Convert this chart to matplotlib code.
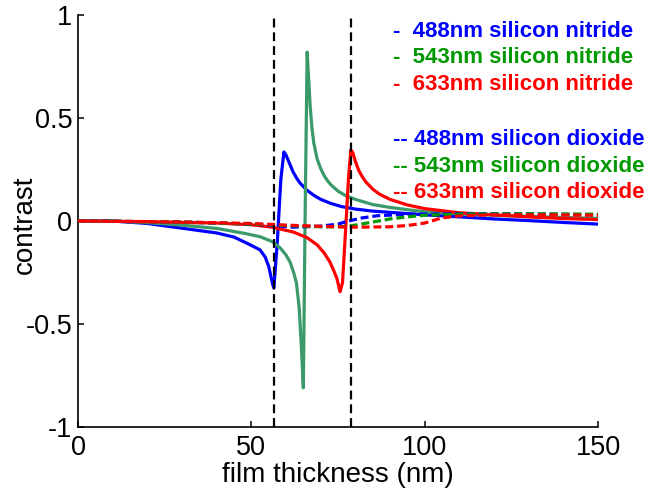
import matplotlib
matplotlib.use("Agg")
import matplotlib.pyplot as plt

plt.rcParams['font.family'] = ['Liberation Sans', 'DejaVu Sans']
plt.rcParams['axes.unicode_minus'] = False

# ---- data ----
# silicon nitride (solid)
x_n488 = [0, 10, 20, 30, 40, 45, 49, 52.5, 54, 55, 55.8, 56.2, 56.5, 57.5, 58.5, 59.4, 60, 61, 62, 63, 64, 66, 68, 70, 73, 76, 80, 85, 90, 100, 110, 120, 130, 140, 150]
y_n488 = [0, 0, -0.012, -0.035, -0.058, -0.078, -0.11, -0.14, -0.175, -0.22, -0.28, -0.31, -0.325, -0.1, 0.2, 0.335, 0.32, 0.28, 0.24, 0.21, 0.185, 0.15, 0.125, 0.105, 0.085, 0.07, 0.058, 0.048, 0.042, 0.03, 0.02, 0.01, 0.002, -0.007, -0.015]

x_n543 = [0, 10, 20, 30, 40, 43, 48, 52.5, 56, 58.3, 60, 61.2, 62.2, 63, 63.8, 64.4, 65, 65.5, 66.1, 66.5, 67, 67.5, 68, 69, 70, 71, 72, 73, 75, 77, 80, 85, 90, 95, 100, 110, 120, 130, 140, 150]
y_n543 = [0, 0, -0.008, -0.02, -0.036, -0.045, -0.06, -0.076, -0.1, -0.13, -0.165, -0.2, -0.25, -0.3, -0.42, -0.6, -0.81, 0.0, 0.82, 0.7, 0.55, 0.45, 0.38, 0.3, 0.255, 0.22, 0.195, 0.175, 0.145, 0.125, 0.105, 0.08, 0.066, 0.055, 0.045, 0.035, 0.028, 0.022, 0.017, 0.013]

x_n633 = [0, 20, 40, 50, 56, 62, 66, 69, 71, 72.7, 74, 74.7, 75.2, 75.6, 76.3, 77, 78, 78.7, 79.2, 80, 81, 82, 83, 85, 87, 90, 95, 100, 110, 120, 130, 140, 150]
y_n633 = [0, -0.003, -0.01, -0.018, -0.03, -0.053, -0.08, -0.116, -0.155, -0.2, -0.25, -0.28, -0.315, -0.343, -0.3, -0.1, 0.2, 0.345, 0.335, 0.29, 0.245, 0.215, 0.19, 0.155, 0.13, 0.105, 0.078, 0.06, 0.04, 0.03, 0.02, 0.012, 0.007]

# silicon dioxide (dashed)
x_o488 = [0, 30, 50, 56, 62, 70, 75, 78, 82, 86, 95, 110, 130, 150]
y_o488 = [0, -0.005, -0.015, -0.022, -0.03, -0.025, -0.015, 0.0, 0.015, 0.025, 0.033, 0.035, 0.035, 0.03]

x_o543 = [0, 30, 50, 60, 70, 76, 80, 85, 90, 95, 100, 110, 130, 150]
y_o543 = [0, -0.005, -0.015, -0.022, -0.028, -0.028, -0.02, -0.005, 0.01, 0.02, 0.028, 0.033, 0.035, 0.033]

x_o633 = [0, 30, 50, 60, 70, 80, 90, 95, 100, 105, 110, 120, 130, 150]
y_o633 = [0, -0.005, -0.012, -0.02, -0.026, -0.03, -0.028, -0.022, -0.01, 0.015, 0.025, 0.03, 0.03, 0.028]

vlines_x = [56.5, 78.7]

xticks = [0, 50, 100, 150]
yticks = [-1, -0.5, 0, 0.5, 1]
ytick_labels = ['-1', '-0.5', '0', '0.5', '1']

legend_labels = ['488nm silicon nitride', '543nm silicon nitride', '633nm silicon nitride',
                 '488nm silicon dioxide', '543nm silicon dioxide', '633nm silicon dioxide']

# ---- styling ----
c_blue = '#0000ff'
c_green_solid = '#3a9a6a'
c_green = '#009900'
c_red = '#ff0000'

fig = plt.figure(figsize=(6.49, 4.91), dpi=100)
ax = fig.add_axes([78/649, 1-427/491, (598-78)/649, (427-15)/491])

lw = 2.3
ax.plot(x_n488, y_n488, color=c_blue, lw=lw, zorder=3)
ax.plot(x_n543, y_n543, color=c_green_solid, lw=lw, zorder=3)
ax.plot(x_n633, y_n633, color=c_red, lw=lw, zorder=3)
ax.plot(x_o488, y_o488, color=c_blue, lw=lw, dashes=(2.5, 1.2), zorder=4)
ax.plot(x_o543, y_o543, color=c_green, lw=lw, dashes=(2.5, 1.2), zorder=4)
ax.plot(x_o633, y_o633, color=c_red, lw=lw, dashes=(2.5, 1.2), zorder=4)

for xv in vlines_x:
    ax.plot([xv, xv], [-1, 1], color='black', lw=1.6, dashes=(4, 2.2), zorder=5)

ax.set_xlim(0, 150)
ax.set_ylim(-1, 1)
ax.set_xticks(xticks)
ax.set_xticklabels([str(t) for t in xticks])
ax.set_yticks(yticks)
ax.set_yticklabels(ytick_labels)
ax.tick_params(direction='in', length=4, width=1.1, labelsize=19.5)
ax.tick_params(axis='x', pad=6)
ax.tick_params(axis='y', pad=4)
ax.spines['top'].set_visible(False)
ax.spines['right'].set_visible(False)
for s in ['left', 'bottom']:
    ax.spines[s].set_linewidth(1.2)

ax.set_xlabel('film thickness (nm)', fontsize=20)
ax.xaxis.set_label_coords(0.5, (427 - 482) / 412, transform=ax.transAxes)
ax.xaxis.label.set_va('baseline')
ax.set_ylabel('contrast', fontsize=20)
ax.yaxis.set_label_coords((25 - 78) / 520, 0.49, transform=ax.transAxes)
ax.yaxis.label.set_va('center')

# text legend
colors = [c_blue, c_green, c_red, c_blue, c_green, c_red]
baselines = [36.7, 63.3, 89.8, 145, 171.7, 198]
for i, (lab, col, b) in enumerate(zip(legend_labels, colors, baselines)):
    prefix = '-  ' if i < 3 else '-- '
    fig.text(393/649, 1 - b/491, prefix + lab, color=col, fontsize=16,
             fontweight='bold', ha='left', va='baseline')

fig.savefig('out.png', dpi=100)
